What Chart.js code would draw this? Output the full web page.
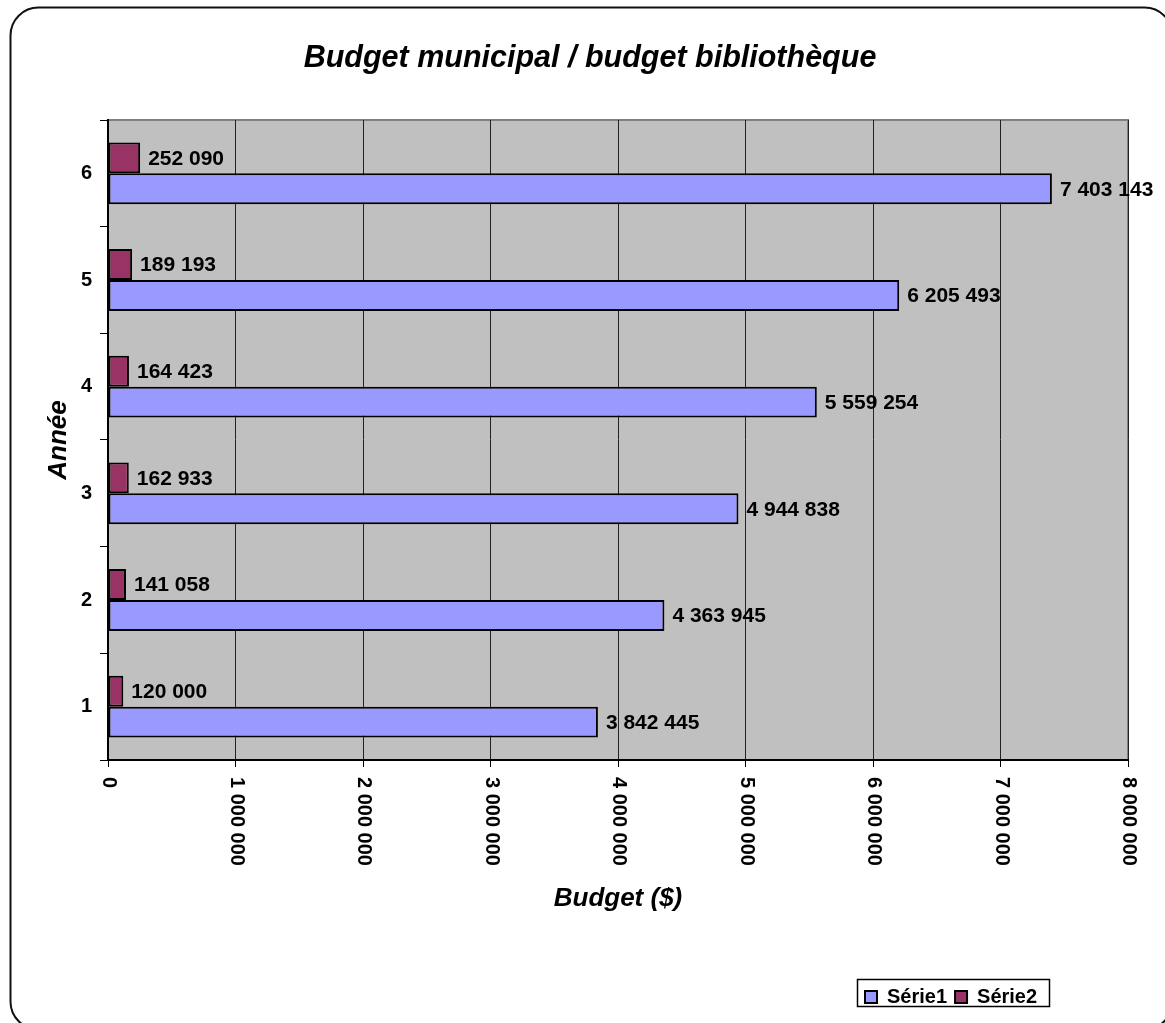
<!DOCTYPE html>
<html lang="fr">
<head>
<meta charset="utf-8">
<title>Budget municipal / budget bibliothèque</title>
<script src="https://cdn.jsdelivr.net/npm/chart.js@4.4.1/dist/chart.umd.min.js"></script>
<style>
  html, body { margin: 0; padding: 0; background: #ffffff; }
  canvas { display: block; }
</style>
</head>
<body>
<canvas id="budgetChart" width="1165" height="1023"></canvas>
<script>
// data
const annees = ['1', '2', '3', '4', '5', '6'];
const budgetMunicipal = [3842445, 4363945, 4944838, 5559254, 6205493, 7403143];
const budgetBiblio = [120000, 141058, 162933, 164423, 189193, 252090];
const xTicks = [0, 1000000, 2000000, 3000000, 4000000, 5000000, 6000000, 7000000, 8000000];

const FONT = 'Arial, "Liberation Sans", sans-serif';

function fmt(v) {
    return String(v).replace(/\B(?=(\d{3})+(?!\d))/g, ' ');
}

// rounded frame + grey plot area
const frame = {
    id: 'frame',
    beforeDraw(chart) {
        const ctx = chart.ctx;
        const a = chart.chartArea;
        ctx.save();
        ctx.fillStyle = '#ffffff';
        ctx.fillRect(0, 0, chart.width, chart.height);
        const x = 10.5, y = 7.5, w = 1162, h = 1022, r = 28;
        ctx.beginPath();
        ctx.moveTo(x + r, y);
        ctx.lineTo(x + w - r, y);
        ctx.arcTo(x + w, y, x + w, y + r, r);
        ctx.lineTo(x + w, y + h - r);
        ctx.arcTo(x + w, y + h, x + w - r, y + h, r);
        ctx.lineTo(x + r, y + h);
        ctx.arcTo(x, y + h, x, y + h - r, r);
        ctx.lineTo(x, y + r);
        ctx.arcTo(x, y, x + r, y, r);
        ctx.closePath();
        ctx.lineWidth = 2;
        ctx.strokeStyle = '#111111';
        ctx.stroke();

        ctx.fillStyle = '#c0c0c0';
        ctx.fillRect(a.left, a.top, a.right - a.left, a.bottom - a.top);
        ctx.lineWidth = 2;
        ctx.strokeStyle = '#808080';
        ctx.strokeRect(a.left, a.top, a.right - a.left, a.bottom - a.top);
        ctx.restore();
    },
    afterLayout(chart) {
        // move the legend to the bottom right corner
        const lg = chart.legend;
        lg.left = 857; lg.right = 1049; lg.width = 192;
        lg.top = 979; lg.bottom = 1006; lg.height = 27;
    },
    afterDraw(chart) {
        const ctx = chart.ctx;
        const lg = chart.legend;
        ctx.save();
        ctx.strokeStyle = '#000000';
        ctx.lineWidth = 1.5;
        ctx.strokeRect(lg.left + 0.5, lg.top + 0.5, lg.width, lg.height);
        ctx.restore();
    }
};

// rotated x tick labels (reading downwards)
const xLabels = {
    id: 'xLabels',
    afterDraw(chart) {
        const ctx = chart.ctx;
        const sx = chart.scales.x;
        ctx.save();
        ctx.font = 'bold 20px ' + FONT;
        ctx.fillStyle = '#000000';
        ctx.textAlign = 'left';
        ctx.textBaseline = 'middle';
        sx.ticks.forEach(t => {
            const px = sx.getPixelForValue(t.value);
            ctx.save();
            ctx.translate(px + 1, chart.chartArea.bottom + 17);
            ctx.rotate(Math.PI / 2);
            ctx.fillText(fmt(t.value), 0, 0);
            ctx.restore();
        });
        ctx.restore();
    }
};

// value labels next to each bar
const barLabels = {
    id: 'barLabels',
    afterDatasetsDraw(chart) {
        const ctx = chart.ctx;
        ctx.save();
        ctx.font = 'bold 21px ' + FONT;
        ctx.fillStyle = '#000000';
        ctx.textAlign = 'left';
        ctx.textBaseline = 'middle';
        chart.data.datasets.forEach((ds, i) => {
            chart.getDatasetMeta(i).data.forEach((bar, j) => {
                ctx.fillText(fmt(ds.data[j]), bar.x + 8, bar.y + 1);
            });
        });
        ctx.restore();
    }
};

const ctx = document.getElementById('budgetChart').getContext('2d');

new Chart(ctx, {
    type: 'bar',
    data: {
        labels: annees,
        datasets: [{
            label: 'Série2',
            data: budgetBiblio,
            backgroundColor: '#993366',
            borderColor: '#000000',
            borderWidth: 2,
            borderSkipped: false
        }, {
            label: 'Série1',
            data: budgetMunicipal,
            backgroundColor: '#9999ff',
            borderColor: '#000000',
            borderWidth: 2,
            borderSkipped: false
        }]
    },
    options: {
        indexAxis: 'y',
        responsive: false,
        animation: false,
        devicePixelRatio: 1,
        categoryPercentage: 0.58,
        barPercentage: 1.0,
        layout: { padding: { top: 20, left: 52, right: 37, bottom: 15 } },
        scales: {
            x: {
                min: 0,
                max: 8000000,
                afterBuildTicks: (scale) => { scale.ticks = xTicks.map(v => ({ value: v })); },
                afterFit: (scale) => { scale.height = 210; },
                ticks: { display: false },
                grid: { color: '#222222', lineWidth: 1, tickLength: 7, tickColor: '#000000' },
                border: { color: '#000000', width: 2 },
                title: {
                    display: true,
                    text: 'Budget ($)',
                    color: '#000000',
                    font: { family: FONT, size: 26, style: 'italic', weight: 'bold' },
                    padding: { top: 0, bottom: 56 }
                }
            },
            y: {
                reverse: true,
                afterFit: (scale) => { scale.width = 56; },
                ticks: {
                    color: '#000000',
                    padding: 8,
                    font: { family: FONT, size: 20, weight: 'bold' }
                },
                grid: { drawOnChartArea: false, tickLength: 8, tickColor: '#000000', offset: true },
                border: { color: '#000000', width: 2 },
                title: {
                    display: true,
                    text: 'Année',
                    color: '#000000',
                    font: { family: FONT, size: 26, style: 'italic', weight: 'bold' },
                    padding: { top: -9, bottom: 0 }
                }
            }
        },
        plugins: {
            title: {
                display: true,
                text: 'Budget municipal / budget bibliothèque',
                color: '#000000',
                font: { family: FONT, size: 30.5, style: 'italic', weight: 'bold' },
                padding: { top: 20, bottom: 43.4 }
            },
            legend: {
                position: 'bottom',
                align: 'start',
                reverse: true,
                labels: {
                    color: '#000000',
                    boxWidth: 12,
                    boxHeight: 12,
                    padding: 8,
                    font: { family: FONT, size: 20, weight: 'bold' }
                }
            },
            tooltip: { enabled: false }
        }
    },
    plugins: [frame, xLabels, barLabels]
});
</script>
</body>
</html>
